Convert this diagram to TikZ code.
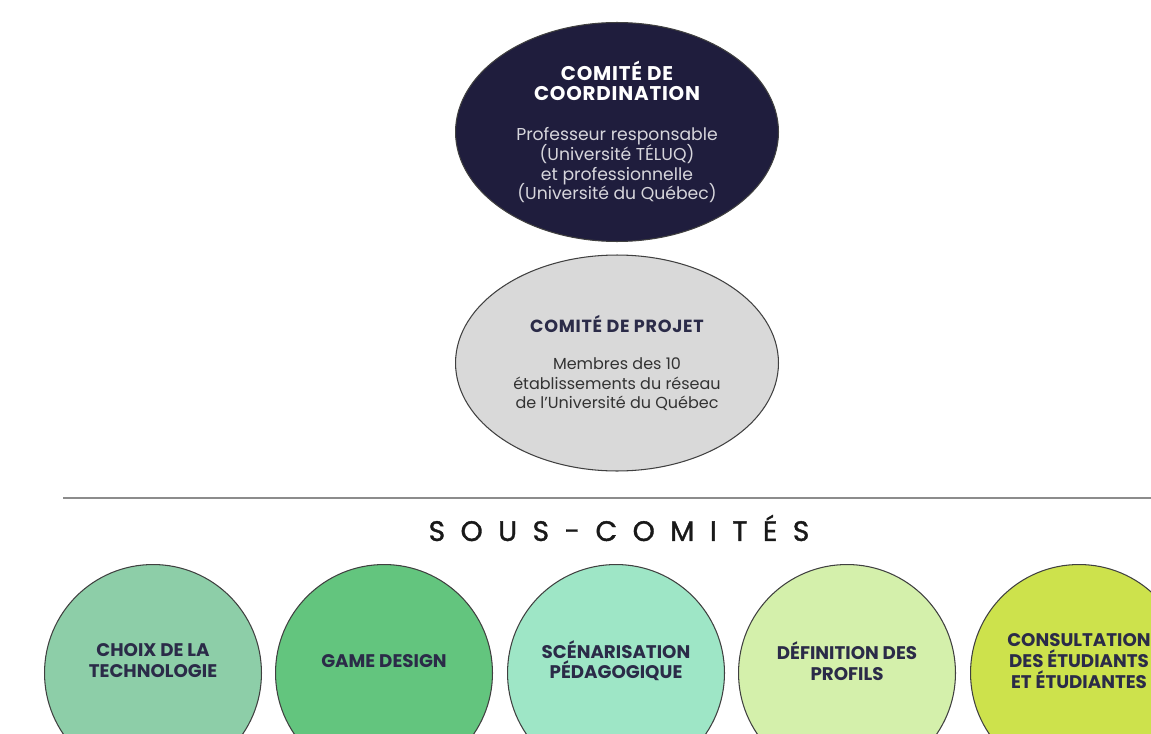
\documentclass[tikz,border=0pt]{standalone}
\usepackage{fontspec}
\setmainfont{Poppins}
\newfontfamily\espace[LetterSpace=55,FakeBold=1.3]{Poppins}
\usepackage{xcolor}
\usepackage{tikz}
\usetikzlibrary{shapes.geometric}

\definecolor{marine}{HTML}{1F1D3D}
\definecolor{grisclair}{HTML}{D9D9D9}
\definecolor{texte}{HTML}{2B2B48}
\definecolor{techno}{HTML}{8DCEA8}
\definecolor{jeu}{HTML}{63C57E}
\definecolor{scenar}{HTML}{9EE6C6}
\definecolor{profils}{HTML}{D4F0AB}
\definecolor{consult}{HTML}{CDE24C}

\newcommand{\titrecomite}[3]{\textcolor{#1}{\bfseries\fontsize{#2}{11.3}\selectfont\addfontfeature{LetterSpace=4}#3}}
\newcommand{\corpscomite}[3]{\textcolor{#1}{\fontsize{#2}{11.3}\selectfont #3}}

\begin{document}
\begin{tikzpicture}[x=0.02cm,y=-0.02cm,
    every node/.append style={execute at begin node={\lineskiplimit=-20pt}},
    comite/.style={ellipse,draw=black!75,line width=0.6pt,minimum width=6.46cm,
      minimum height=4.38cm,align=center,inner sep=0pt,
      font=\fontsize{9.8}{11.2}\selectfont},
    souscomite/.style={circle,draw=black!75,line width=0.6pt,minimum size=4.34cm,
      inner sep=0pt},
    etiquette/.style={align=center,text=texte,inner sep=0pt,
      font=\bfseries\fontsize{10.4}{11.9}\selectfont}]
    \useasboundingbox (0,0) rectangle (1151,733);
    \clip (0,0) rectangle (1151,733);

    \node[comite,fill=marine] (coordination) at (617,132)
      {\titrecomite{white}{11.3}{COMITÉ DE}\\
       \titrecomite{white}{11.3}{COORDINATION}\\[12pt]
       \corpscomite{white!82!marine}{9.8}{Professeur responsable}\\
       \corpscomite{white!82!marine}{9.8}{(Université TÉLUQ)}\\
       \corpscomite{white!82!marine}{9.8}{et professionnelle}\\
       \corpscomite{white!82!marine}{9.8}{(Université du Québec)}};

    \node[comite,fill=grisclair,minimum height=4.32cm] (projet) at (617,363)
      {\titrecomite{texte}{10}{COMITÉ DE PROJET}\\[10pt]
       \corpscomite{black!80}{9.1}{Membres des 10}\\
       \corpscomite{black!80}{9.1}{établissements du réseau}\\
       \corpscomite{black!80}{9.1}{de l’Université du Québec}};

    \draw[black!45,line width=1.2pt] (63,498)--(1151,498);
    \node[font=\espace\fontsize{16}{18}\selectfont,text=black!90] (titre) at (619,528) {SOUS-COMITÉS};

    % sous-comites
    \node[souscomite,fill=techno] (technologie) at (153,673) {};
    \node[souscomite,fill=jeu] (gamedesign) at (384,673) {};
    \node[souscomite,fill=scenar] (scenarisation) at (616,673) {};
    \node[souscomite,fill=profils] (definition) at (847,673) {};
    \node[souscomite,fill=consult] (consultation) at (1079,673) {};

    \node[etiquette] (technologie-t) at ([yshift=7pt]technologie.center) {CHOIX DE LA\\TECHNOLOGIE};
    \node[etiquette] (gamedesign-t) at ([yshift=7pt]gamedesign.center) {GAME DESIGN};
    \node[etiquette] (scenarisation-t) at ([yshift=7pt]scenarisation.center) {SCÉNARISATION\\PÉDAGOGIQUE};
    \node[etiquette] (definition-t) at ([yshift=7pt]definition.center) {DÉFINITION DES\\PROFILS};
    \node[etiquette] (consultation-t) at ([yshift=7pt]consultation.center) {CONSULTATION\\DES ÉTUDIANTS\\ET ÉTUDIANTES};
\end{tikzpicture}
\end{document}
